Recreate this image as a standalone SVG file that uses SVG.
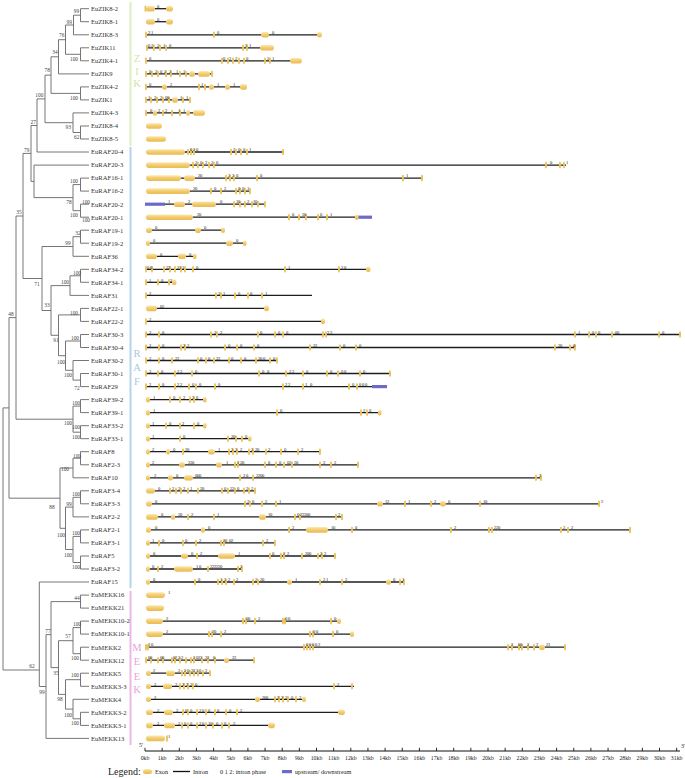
<svg xmlns="http://www.w3.org/2000/svg" width="685" height="778" viewBox="0 0 685 778">
<defs>
<linearGradient id="gx" x1="0" y1="0" x2="0" y2="1">
<stop offset="0" stop-color="#fbe8b0"/><stop offset="0.5" stop-color="#f2cb6c"/><stop offset="1" stop-color="#e8bb55"/>
</linearGradient>
</defs>
<style>
.t{font-family:'Liberation Serif',serif;font-size:6.6px;fill:#333}
.b{font-family:'Liberation Serif',serif;font-size:5.4px;fill:#444;text-anchor:middle}
.tr{stroke:#666;stroke-width:0.9;fill:none}
.in{stroke:#1e1e1e;stroke-width:1.3;fill:none}
.se{stroke:#ecc45e;stroke-width:1.9;stroke-linecap:round;fill:none}
.ex{fill:url(#gx)}
.bl{fill:#6c6cc8}
.ph{font-family:'Liberation Serif',serif;font-size:4.6px;fill:#222}
.ax{font-family:'Liberation Serif',serif;font-size:5.8px;fill:#222;text-anchor:middle}
.lg{font-family:'Liberation Serif',serif;font-size:6.2px;fill:#222}
.grp{font-family:'Liberation Serif',serif;font-size:10.5px;text-anchor:middle}
</style>
<rect width="685" height="778" fill="#fff"/>

<g id="connectors">
<path class="tr" d="M89 8.7H80.5V21.7H89M80.5 15.2H73.5V34.8H89M89 47.8H80.5V60.8H89M73.5 25H65.5V54.3H80.5M65.5 39.7H58.5V73.9H89M89 86.9H80.5V99.9H89M58.5 56.8H51V93.4H80.5M89 126H80.5V139H89M89 112.9H73V132.5H80.5M51 75.1H45V122.7H73M45 98.9H37V152H89"/>
<path class="tr" d="M89 178.1H80.5V191.1H89M89 204.2H80.5V217.2H89M80.5 184.6H73V210.7H80.5M89 165.1H34V197.6H73M37 125.5H31V181.4H34M89 230.2H80.5V243.2H89M80.5 236.7H73V256.3H89M89 269.3H80.5V282.3H89M80.5 275.8H70V295.4H89M89 308.4H80.5V321.4H89M89 334.5H80.5V347.5H89M89 373.5H80.5V386.6H89M89 360.5H73V380.1H80.5M80.5 341H65.5V370.3H73M80.5 314.9H58.5V355.7H65.5M70 285.6H51V335.3H58.5M73 246.5H42V310.5H51M31 153.4H23V278.5H42M89 399.6H80.5V412.6H89M89 425.7H80.5V438.7H89M80.5 406.1H73V432.2H80.5M23 216H16V419.2H73M89 451.7H80.5V464.8H89M80.5 458.2H73V477.8H89M89 490.8H80.5V503.8H89M80.5 497.3H73V516.9H89M89 529.9H80.5V542.9H89M89 556H80.5V569H89M80.5 536.4H73V562.5H80.5M73 507.1H65.5V549.5H73M73 468H60V528.3H65.5M16 317.6H9V498.2H60"/>
<path class="tr" d="M89 595.1H80.5V608.1H89M89 621.1H80.5V634.1H89M89 647.2H80.5V660.2H89M80.5 627.6H73V653.7H80.5M89 673.2H80.5V686.3H89M89 712.3H80.5V725.4H89M89 699.3H73V718.8H80.5M80.5 679.7H65.5V709.1H73M73 640.7H58.5V694.4H65.5M80.5 601.6H51V667.6H58.5M51 634.6H46V738.4H89M89 582H39.3V686.5H46M9 407.9H3V670H39.3"/>
</g>

<g id="bootstrap">
<text class="b" x="76.5" y="12.8">99</text><text class="b" x="69.3" y="23.8">99</text><text class="b" x="74" y="60.8">100</text><text class="b" x="61.7" y="36.8">76</text><text class="b" x="55" y="53.8">34</text><text class="b" x="74" y="99.8">100</text><text class="b" x="47.3" y="71.8">78</text><text class="b" x="76.7" y="138.8">62</text><text class="b" x="68.3" y="128.8">93</text><text class="b" x="39.3" y="96.8">100</text><text class="b" x="33.3" y="123.8">27</text><text class="b" x="26.7" y="151.8">79</text>
<text class="b" x="74" y="182.8">100</text><text class="b" x="69" y="203.8">78</text><text class="b" x="86" y="203.8">100</text><text class="b" x="74" y="216.8">100</text><text class="b" x="86" y="221.8">100</text><text class="b" x="78" y="234.8">32</text><text class="b" x="68" y="244.8">99</text><text class="b" x="19" y="213.8">35</text><text class="b" x="77" y="274.8">100</text><text class="b" x="65" y="283.8">100</text><text class="b" x="37" y="285.8">71</text><text class="b" x="11" y="315.8">48</text><text class="b" x="47" y="306.8">33</text><text class="b" x="74" y="314.8">100</text><text class="b" x="56" y="341.8">91</text><text class="b" x="75" y="339.8">100</text><text class="b" x="61" y="363.8">100</text><text class="b" x="68" y="376.8">100</text><text class="b" x="77" y="389.8">72</text>
<text class="b" x="76" y="404.8">100</text><text class="b" x="68" y="424.8">100</text><text class="b" x="76" y="428.8">100</text><text class="b" x="76" y="438.8">100</text><text class="b" x="77" y="457.8">100</text><text class="b" x="65" y="470.8">100</text><text class="b" x="52" y="508.8">88</text><text class="b" x="76" y="495.8">100</text><text class="b" x="69" y="505.8">99</text><text class="b" x="61" y="536.8">100</text><text class="b" x="76" y="534.8">100</text><text class="b" x="68" y="556.8">100</text><text class="b" x="76" y="568.8">100</text>
<text class="b" x="77" y="599.8">44</text><text class="b" x="77" y="625.8">100</text><text class="b" x="68" y="637.8">57</text><text class="b" x="75" y="659.8">100</text><text class="b" x="56" y="674.8">35</text><text class="b" x="75" y="676.8">100</text><text class="b" x="60" y="700.8">98</text><text class="b" x="68" y="716.8">100</text><text class="b" x="75" y="724.8">100</text><text class="b" x="48" y="632.8">77</text><text class="b" x="32" y="667.8">62</text><text class="b" x="42" y="693.8">99</text>
</g>

<g id="groups">
<rect x="129.5" y="2" width="2" height="144" fill="#dcefc2"/>
<rect x="129.5" y="147" width="2" height="441" fill="#b3d4ee"/>
<rect x="129.5" y="591" width="2" height="154" fill="#ebb8e7"/>
<g fill="#cfe5a7"><text class="grp" x="137" y="61.6">Z</text><text class="grp" x="137" y="75">I</text><text class="grp" x="137" y="86.6">K</text></g>
<g fill="#a6c8e6"><text class="grp" x="137" y="357.3">R</text><text class="grp" x="137" y="371.3">A</text><text class="grp" x="137" y="385.3">F</text></g>
<g fill="#e5a3dd"><text class="grp" x="137" y="651.3">M</text><text class="grp" x="137" y="665.3">E</text><text class="grp" x="137" y="680.3">E</text><text class="grp" x="137" y="693.3">K</text></g>
</g>

<g id="genes">
<g id="EuZIK8-2" transform="translate(0,8.7)"><text class="t" x="91" y="2.3">EuZIK8-2</text><path class="in" d="M146 0H173"/><path class="se" d="M145.5-2.3v4.6"/><rect class="ex" x="146" y="-2.8" width="9" height="5.6" rx="2.8"/><rect class="ex" x="166" y="-2.8" width="7" height="5.6" rx="2.8"/><text class="ph" x="157" y="-0.8">0</text></g>
<g id="EuZIK8-1" transform="translate(0,21.7)"><text class="t" x="91" y="2.3">EuZIK8-1</text><path class="in" d="M146 0H173"/><rect class="ex" x="146" y="-2.8" width="9" height="5.6" rx="2.8"/><rect class="ex" x="166" y="-2.8" width="7" height="5.6" rx="2.8"/><text class="ph" x="157" y="-0.8">0</text></g>
<g id="EuZIK8-3" transform="translate(0,34.8)"><text class="t" x="91" y="2.3">EuZIK8-3</text><path class="in" d="M146 0H320"/><path class="se" d="M146-2.3v4.6M214-2.3v4.6"/><rect class="ex" x="261" y="-2.8" width="8" height="5.6" rx="2.8"/><rect class="ex" x="317" y="-2.8" width="5" height="5.6" rx="2.5"/><text class="ph" x="148 151 217 272" y="-0.8">2100</text></g>
<g id="EuZIK11" transform="translate(0,47.8)"><text class="t" x="91" y="2.3">EuZIK11</text><path class="in" d="M146 0H270"/><path class="se" d="M147-2.3v4.6M154-2.3v4.6M160-2.3v4.6M166-2.3v4.6M243-2.3v4.6M247-2.3v4.6"/><rect class="ex" x="260" y="-2.8" width="14" height="5.6" rx="2.8"/><text class="ph" x="148 151 157 163 169 245 249" y="-0.8">0221021</text></g>
<g id="EuZIK4-1" transform="translate(0,60.8)"><text class="t" x="91" y="2.3">EuZIK4-1</text><path class="in" d="M146 0H298"/><path class="se" d="M146-2.3v4.6M222-2.3v4.6M228-2.3v4.6M233-2.3v4.6M239-2.3v4.6M244-2.3v4.6M265-2.3v4.6M270-2.3v4.6"/><rect class="ex" x="290" y="-2.8" width="12" height="5.6" rx="2.8"/><text class="ph" x="149 223 229 235 246 267 272" y="-0.8">0022021</text></g>
<g id="EuZIK9" transform="translate(0,73.9)"><text class="t" x="91" y="2.3">EuZIK9</text><path class="in" d="M146 0H212"/><path class="se" d="M146-2.3v4.6M152-2.3v4.6M158-2.3v4.6M166-2.3v4.6M171-2.3v4.6M180-2.3v4.6M186-2.3v4.6M212-2.3v4.6"/><rect class="ex" x="189" y="-2.8" width="6" height="5.6" rx="2.8"/><rect class="ex" x="198" y="-2.8" width="12" height="5.6" rx="2.8"/><text class="ph" x="149 155 160 164 169 176 183" y="-0.8">0202211</text></g>
<g id="EuZIK4-2" transform="translate(0,86.9)"><text class="t" x="91" y="2.3">EuZIK4-2</text><path class="in" d="M146 0H245"/><path class="se" d="M146-2.3v4.6M199-2.3v4.6M205-2.3v4.6"/><rect class="ex" x="162" y="-2.8" width="5" height="5.6" rx="2.5"/><rect class="ex" x="209" y="-2.8" width="5" height="5.6" rx="2.5"/><rect class="ex" x="225" y="-2.8" width="5" height="5.6" rx="2.5"/><rect class="ex" x="240" y="-2.8" width="7" height="5.6" rx="2.8"/><text class="ph" x="149 170 201 217 233" y="-0.8">02111</text></g>
<g id="EuZIK1" transform="translate(0,99.9)"><text class="t" x="91" y="2.3">EuZIK1</text><path class="in" d="M146 0H190"/><path class="se" d="M146-2.3v4.6M151-2.3v4.6M157-2.3v4.6M163-2.3v4.6M169-2.3v4.6M183-2.3v4.6M190-2.3v4.6"/><rect class="ex" x="172" y="-2.8" width="6" height="5.6" rx="2.8"/><text class="ph" x="148 154 160 165 167 180 186" y="-0.8">1220011</text></g>
<g id="EuZIK4-3" transform="translate(0,112.9)"><text class="t" x="91" y="2.3">EuZIK4-3</text><path class="in" d="M146 0H200"/><path class="se" d="M146-2.3v4.6M163-2.3v4.6M172-2.3v4.6M180-2.3v4.6"/><rect class="ex" x="153" y="-2.8" width="4" height="5.6" rx="2"/><rect class="ex" x="186" y="-2.8" width="4" height="5.6" rx="2"/><rect class="ex" x="193" y="-2.8" width="12" height="5.6" rx="2.8"/><text class="ph" x="150 158 165 178 183" y="-0.8">02211</text></g>
<g id="EuZIK8-4" transform="translate(0,126)"><text class="t" x="91" y="2.3">EuZIK8-4</text><rect class="ex" x="146" y="-2.8" width="16" height="5.6" rx="2.8"/></g>
<g id="EuZIK8-5" transform="translate(0,139)"><text class="t" x="91" y="2.3">EuZIK8-5</text><rect class="ex" x="146" y="-2.8" width="20" height="5.6" rx="2.8"/></g>

<g id="EuRAF20-4" transform="translate(0,152)"><text class="t" x="91" y="2.3">EuRAF20-4</text><path class="in" d="M180 0H284"/><path class="se" d="M188-2.3v4.6M191-2.3v4.6M194-2.3v4.6M231-2.3v4.6M236-2.3v4.6M241-2.3v4.6M247-2.3v4.6M283-2.3v4.6"/><rect class="ex" x="146" y="-2.8" width="39" height="5.6" rx="2.8"/><text class="ph" x="190 193 196 233 238 243 249" y="-0.8">0202001</text></g>
<g id="EuRAF20-3" transform="translate(0,165.1)"><text class="t" x="91" y="2.3">EuRAF20-3</text><path class="in" d="M185 0H566"/><path class="se" d="M193-2.3v4.6M198-2.3v4.6M203-2.3v4.6M209-2.3v4.6M214-2.3v4.6M546-2.3v4.6M560-2.3v4.6M564-2.3v4.6"/><rect class="ex" x="146" y="-2.8" width="44" height="5.6" rx="2.8"/><text class="ph" x="195 200 205 211 216 550 566" y="-0.8">2022001</text></g>
<g id="EuRAF16-1" transform="translate(0,178.1)"><text class="t" x="91" y="2.3">EuRAF16-1</text><path class="in" d="M180 0H422"/><path class="se" d="M226-2.3v4.6M230-2.3v4.6M234-2.3v4.6M257-2.3v4.6M403-2.3v4.6M422-2.3v4.6"/><rect class="ex" x="146" y="-2.8" width="35" height="5.6" rx="2.8"/><rect class="ex" x="184" y="-2.8" width="11" height="5.6" rx="2.8"/><text class="ph" x="198 200 228 232 236 260 406" y="-0.8">2022001</text></g>
<g id="EuRAF16-2" transform="translate(0,191.1)"><text class="t" x="91" y="2.3">EuRAF16-2</text><path class="in" d="M185 0H250"/><path class="se" d="M211-2.3v4.6M221-2.3v4.6M236-2.3v4.6M240-2.3v4.6M245-2.3v4.6M250-2.3v4.6"/><rect class="ex" x="146" y="-2.8" width="44" height="5.6" rx="2.8"/><text class="ph" x="193 195 214 224 238 242 247" y="-0.8">2002001</text></g>
<g id="EuRAF20-2" transform="translate(0,204.2)"><text class="t" x="91" y="2.3">EuRAF20-2</text><path class="in" d="M165 0H265"/><rect class="bl" x="145" y="-1.6" width="20" height="3.2"/><path class="se" d="M234-2.3v4.6M240-2.3v4.6M245-2.3v4.6M252-2.3v4.6M258-2.3v4.6M265-2.3v4.6"/><rect class="ex" x="174" y="-2.8" width="11" height="5.6" rx="2.8"/><rect class="ex" x="192" y="-2.8" width="24" height="5.6" rx="2.8"/><text class="ph" x="168 188 220 236 238 247 253 255" y="-0.8">12010210</text></g>
<g id="EuRAF20-1" transform="translate(0,217.2)"><text class="t" x="91" y="2.3">EuRAF20-1</text><path class="in" d="M185 0H358"/><rect class="bl" x="358" y="-1.6" width="14" height="3.2"/><path class="se" d="M289-2.3v4.6M299-2.3v4.6M306-2.3v4.6M318-2.3v4.6M327-2.3v4.6"/><rect class="ex" x="146" y="-2.8" width="47" height="5.6" rx="2.8"/><rect class="ex" x="355" y="-2.8" width="3.5" height="5.6" rx="1.7"/><text class="ph" x="197 199 292 302 304 320 330" y="-0.8">2002001</text></g>
<g id="EuRAF19-1" transform="translate(0,230.2)"><text class="t" x="91" y="2.3">EuRAF19-1</text><path class="in" d="M150 0H223"/><rect class="ex" x="146" y="-2.8" width="6" height="5.6" rx="2.8"/><rect class="ex" x="195" y="-2.8" width="6" height="5.6" rx="2.8"/><rect class="ex" x="221" y="-2.8" width="4" height="5.6" rx="2"/><text class="ph" x="155 204" y="-0.8">00</text></g>
<g id="EuRAF19-2" transform="translate(0,243.2)"><text class="t" x="91" y="2.3">EuRAF19-2</text><path class="in" d="M148 0H245"/><rect class="ex" x="146" y="-2.8" width="4" height="5.6" rx="2"/><rect class="ex" x="226" y="-2.8" width="7" height="5.6" rx="2.8"/><rect class="ex" x="243" y="-2.8" width="3.5" height="5.6" rx="1.7"/><text class="ph" x="153 236" y="-0.8">00</text></g>
<g id="EuRAF36" transform="translate(0,256.3)"><text class="t" x="91" y="2.3">EuRAF36</text><path class="in" d="M150 0H195"/><rect class="ex" x="146" y="-2.8" width="11" height="5.6" rx="2.8"/><rect class="ex" x="178" y="-2.8" width="8" height="5.6" rx="2.8"/><rect class="ex" x="193" y="-2.8" width="3.5" height="5.6" rx="1.7"/><text class="ph" x="160 189" y="-0.8">00</text></g>
<g id="EuRAF34-2" transform="translate(0,269.3)"><text class="t" x="91" y="2.3">EuRAF34-2</text><path class="in" d="M146 0H368"/><path class="se" d="M146-2.3v4.6M152-2.3v4.6M164-2.3v4.6M170-2.3v4.6M175-2.3v4.6M181-2.3v4.6M185-2.3v4.6M193-2.3v4.6M285-2.3v4.6M339-2.3v4.6"/><rect class="ex" x="366" y="-2.8" width="4.5" height="5.6" rx="2.2"/><text class="ph" x="147 150 166 168 177 179 182 196 288 341 344" y="-0.8">00222110120</text></g>
<g id="EuRAF34-1" transform="translate(0,282.3)"><text class="t" x="91" y="2.3">EuRAF34-1</text><path class="in" d="M146 0H174"/><path class="se" d="M146-2.3v4.6M158-2.3v4.6M169-2.3v4.6"/><rect class="ex" x="172" y="-2.8" width="4.5" height="5.6" rx="2.2"/><text class="ph" x="149 161 170" y="-0.8">102</text></g>
<g id="EuRAF31" transform="translate(0,295.4)"><text class="t" x="91" y="2.3">EuRAF31</text><path class="in" d="M146 0H312"/><path class="se" d="M146-2.3v4.6M216-2.3v4.6M221-2.3v4.6M235-2.3v4.6M248-2.3v4.6M262-2.3v4.6"/><text class="ph" x="149 218 223 238 250 265" y="-0.8">221001</text></g>
<g id="EuRAF22-1" transform="translate(0,308.4)"><text class="t" x="91" y="2.3">EuRAF22-1</text><path class="in" d="M150 0H267"/><rect class="ex" x="146" y="-2.8" width="11" height="5.6" rx="2.8"/><rect class="ex" x="264" y="-2.8" width="5" height="5.6" rx="2.5"/><text class="ph" x="160 162" y="-0.8">02</text></g>
<g id="EuRAF22-2" transform="translate(0,321.4)"><text class="t" x="91" y="2.3">EuRAF22-2</text><path class="in" d="M146 0H323"/><path class="se" d="M146-2.3v4.6"/><rect class="ex" x="321" y="-2.8" width="4" height="5.6" rx="2"/><text class="ph" x="149" y="-0.8">2</text></g>
<g id="EuRAF30-3" transform="translate(0,334.5)"><text class="t" x="91" y="2.3">EuRAF30-3</text><path class="in" d="M146 0H681"/><path class="se" d="M146-2.3v4.6M159-2.3v4.6M211-2.3v4.6M217-2.3v4.6M258-2.3v4.6M275-2.3v4.6M283-2.3v4.6M323-2.3v4.6M326-2.3v4.6M575-2.3v4.6M589-2.3v4.6M596-2.3v4.6M612-2.3v4.6M659-2.3v4.6M680-2.3v4.6"/><text class="ph" x="149 162 214 220 260 278 286 327 330 578 592 598 615 617 662" y="-0.8">202200022100000</text></g>
<g id="EuRAF30-4" transform="translate(0,347.5)"><text class="t" x="91" y="2.3">EuRAF30-4</text><path class="in" d="M146 0H575"/><path class="se" d="M146-2.3v4.6M159-2.3v4.6M181-2.3v4.6M185-2.3v4.6M225-2.3v4.6M237-2.3v4.6M254-2.3v4.6M310-2.3v4.6M340-2.3v4.6M356-2.3v4.6M555-2.3v4.6M570-2.3v4.6M575-2.3v4.6"/><text class="ph" x="149 162 183 187 228 240 257 313 315 343 359 558 560 573" y="-0.8">20220002200200</text></g>
<g id="EuRAF30-2" transform="translate(0,360.5)"><text class="t" x="91" y="2.3">EuRAF30-2</text><path class="in" d="M146 0H277"/><path class="se" d="M146-2.3v4.6M159-2.3v4.6M172-2.3v4.6M198-2.3v4.6M206-2.3v4.6M214-2.3v4.6M229-2.3v4.6M241-2.3v4.6M256-2.3v4.6M270-2.3v4.6M277-2.3v4.6"/><text class="ph" x="149 162 175 177 200 208 216 218 231 244 258 260 263 273" y="-0.8">20220022002000</text></g>
<g id="EuRAF30-1" transform="translate(0,373.5)"><text class="t" x="91" y="2.3">EuRAF30-1</text><path class="in" d="M146 0H390"/><path class="se" d="M146-2.3v4.6M158-2.3v4.6M175-2.3v4.6M192-2.3v4.6M259-2.3v4.6M286-2.3v4.6M303-2.3v4.6M327-2.3v4.6M338-2.3v4.6M360-2.3v4.6M390-2.3v4.6"/><text class="ph" x="149 161 177 180 195 262 267 289 292 306 330 341 344 363" y="-0.8">20220002200000</text></g>
<g id="EuRAF29" transform="translate(0,386.6)"><text class="t" x="91" y="2.3">EuRAF29</text><path class="in" d="M146 0H372"/><rect class="bl" x="372" y="-1.6" width="15" height="3.2"/><path class="se" d="M146-2.3v4.6M159-2.3v4.6M175-2.3v4.6M189-2.3v4.6M196-2.3v4.6M215-2.3v4.6M283-2.3v4.6M303-2.3v4.6M349-2.3v4.6M357-2.3v4.6"/><text class="ph" x="149 162 177 180 192 199 218 285 288 305 310 352 359 362 365" y="-0.8">202200022100000</text></g>
<g id="EuRAF39-2" transform="translate(0,399.6)"><text class="t" x="91" y="2.3">EuRAF39-2</text><path class="in" d="M148 0H205"/><path class="se" d="M170-2.3v4.6M180-2.3v4.6M190-2.3v4.6M194-2.3v4.6"/><rect class="ex" x="146" y="-2.8" width="4" height="5.6" rx="2"/><rect class="ex" x="203" y="-2.8" width="3.5" height="5.6" rx="1.7"/><text class="ph" x="153 173 183 192 196" y="-0.8">10220</text></g>
<g id="EuRAF39-1" transform="translate(0,412.6)"><text class="t" x="91" y="2.3">EuRAF39-1</text><path class="in" d="M148 0H380"/><path class="se" d="M277-2.3v4.6M361-2.3v4.6M367-2.3v4.6"/><rect class="ex" x="146" y="-2.8" width="4" height="5.6" rx="2"/><rect class="ex" x="378" y="-2.8" width="3.5" height="5.6" rx="1.7"/><text class="ph" x="153 280 363 369" y="-0.8">1020</text></g>
<g id="EuRAF33-2" transform="translate(0,425.7)"><text class="t" x="91" y="2.3">EuRAF33-2</text><path class="in" d="M148 0H205"/><path class="se" d="M166-2.3v4.6M180-2.3v4.6M194-2.3v4.6"/><rect class="ex" x="146" y="-2.8" width="4" height="5.6" rx="2"/><rect class="ex" x="203" y="-2.8" width="3.5" height="5.6" rx="1.7"/><text class="ph" x="152 169 182 197" y="-0.8">1020</text></g>
<g id="EuRAF33-1" transform="translate(0,438.7)"><text class="t" x="91" y="2.3">EuRAF33-1</text><path class="in" d="M148 0H250"/><path class="se" d="M180-2.3v4.6M228-2.3v4.6M236-2.3v4.6M242-2.3v4.6"/><rect class="ex" x="146" y="-2.8" width="4" height="5.6" rx="2"/><rect class="ex" x="248" y="-2.8" width="3.5" height="5.6" rx="1.7"/><text class="ph" x="152 183 231 233 245" y="-0.8">10200</text></g>
<g id="EuRAF8" transform="translate(0,451.7)"><text class="t" x="91" y="2.3">EuRAF8</text><path class="in" d="M148 0H320"/><path class="se" d="M183-2.3v4.6M229-2.3v4.6M233-2.3v4.6M237-2.3v4.6M249-2.3v4.6M253-2.3v4.6M266-2.3v4.6M281-2.3v4.6M298-2.3v4.6M320-2.3v4.6"/><rect class="ex" x="146" y="-2.8" width="4" height="5.6" rx="2"/><rect class="ex" x="166" y="-2.8" width="4" height="5.6" rx="2"/><rect class="ex" x="208" y="-2.8" width="7" height="5.6" rx="2.8"/><text class="ph" x="152 173 185 187 218 231 235 240 251 255 257 268 284 301" y="-0.8">20201222220202</text></g>
<g id="EuRAF2-3" transform="translate(0,464.8)"><text class="t" x="91" y="2.3">EuRAF2-3</text><path class="in" d="M148 0H358"/><path class="se" d="M235-2.3v4.6M238-2.3v4.6M265-2.3v4.6M276-2.3v4.6M284-2.3v4.6M292-2.3v4.6M320-2.3v4.6M331-2.3v4.6M358-2.3v4.6"/><rect class="ex" x="146" y="-2.8" width="4" height="5.6" rx="2"/><rect class="ex" x="179" y="-2.8" width="6" height="5.6" rx="2.8"/><rect class="ex" x="216" y="-2.8" width="6" height="5.6" rx="2.8"/><text class="ph" x="152 188 190 192 226 237 240 242 268 279 287 289 294 296 323 334" y="-0.8">2220122000022022</text></g>
<g id="EuRAF10" transform="translate(0,477.8)"><text class="t" x="91" y="2.3">EuRAF10</text><path class="in" d="M148 0H541"/><path class="se" d="M240-2.3v4.6M253-2.3v4.6M536-2.3v4.6M541-2.3v4.6"/><rect class="ex" x="146" y="-2.8" width="4" height="5.6" rx="2"/><rect class="ex" x="168" y="-2.8" width="5" height="5.6" rx="2.5"/><rect class="ex" x="184" y="-2.8" width="9" height="5.6" rx="2.8"/><text class="ph" x="154 176 195 197 199 243 246 256 258 260 262 539" y="-0.8">200002022002</text></g>
<g id="EuRAF3-4" transform="translate(0,490.8)"><text class="t" x="91" y="2.3">EuRAF3-4</text><path class="in" d="M150 0H255"/><path class="se" d="M170-2.3v4.6M176-2.3v4.6M181-2.3v4.6M188-2.3v4.6M198-2.3v4.6M222-2.3v4.6M228-2.3v4.6M235-2.3v4.6M244-2.3v4.6M249-2.3v4.6M255-2.3v4.6"/><rect class="ex" x="146" y="-2.8" width="9" height="5.6" rx="2.8"/><text class="ph" x="158 172 178 183 190 200 202 224 230 232 237 246 251" y="-0.8">0222120022022</text></g>
<g id="EuRAF3-3" transform="translate(0,503.8)"><text class="t" x="91" y="2.3">EuRAF3-3</text><path class="in" d="M150 0H600"/><path class="se" d="M245-2.3v4.6M250-2.3v4.6M262-2.3v4.6M276-2.3v4.6M405-2.3v4.6M431-2.3v4.6M480-2.3v4.6M599-2.3v4.6"/><rect class="ex" x="146" y="-2.8" width="6" height="5.6" rx="2.8"/><rect class="ex" x="377" y="-2.8" width="6" height="5.6" rx="2.8"/><rect class="ex" x="440" y="-2.8" width="6" height="5.6" rx="2.8"/><text class="ph" x="155 247 252 265 279 385 387 408 434 448 483 485 601" y="-0.8">0202112120102</text></g>
<g id="EuRAF2-2" transform="translate(0,516.9)"><text class="t" x="91" y="2.3">EuRAF2-2</text><path class="in" d="M150 0H342"/><path class="se" d="M188-2.3v4.6M214-2.3v4.6M295-2.3v4.6M300-2.3v4.6M336-2.3v4.6M342-2.3v4.6"/><rect class="ex" x="146" y="-2.8" width="12" height="5.6" rx="2.8"/><rect class="ex" x="171" y="-2.8" width="4" height="5.6" rx="2"/><rect class="ex" x="259" y="-2.8" width="7" height="5.6" rx="2.8"/><text class="ph" x="161 178 180 191 217 268 270 297 300 302 304 306 308 338" y="-0.8">02021100222002</text></g>
<g id="EuRAF2-1" transform="translate(0,529.9)"><text class="t" x="91" y="2.3">EuRAF2-1</text><path class="in" d="M150 0H630"/><path class="se" d="M289-2.3v4.6M352-2.3v4.6M451-2.3v4.6M489-2.3v4.6M492-2.3v4.6M561-2.3v4.6M568-2.3v4.6M630-2.3v4.6"/><rect class="ex" x="146" y="-2.8" width="5" height="5.6" rx="2.5"/><rect class="ex" x="201" y="-2.8" width="4" height="5.6" rx="2"/><rect class="ex" x="306" y="-2.8" width="22" height="5.6" rx="2.8"/><text class="ph" x="155 208 292 331 333 355 454 494 496 498 563 571" y="-0.8">002100222022</text></g>
<g id="EuRAF3-1" transform="translate(0,542.9)"><text class="t" x="91" y="2.3">EuRAF3-1</text><path class="in" d="M148 0H275"/><path class="se" d="M159-2.3v4.6M183-2.3v4.6M196-2.3v4.6M221-2.3v4.6M224-2.3v4.6M263-2.3v4.6M275-2.3v4.6"/><rect class="ex" x="146" y="-2.8" width="4" height="5.6" rx="2"/><text class="ph" x="152 162 185 199 223 225 229 231 266" y="-0.8">100220022</text></g>
<g id="EuRAF5" transform="translate(0,556)"><text class="t" x="91" y="2.3">EuRAF5</text><path class="in" d="M148 0H335"/><path class="se" d="M197-2.3v4.6M270-2.3v4.6M281-2.3v4.6M284-2.3v4.6M302-2.3v4.6M318-2.3v4.6M322-2.3v4.6M335-2.3v4.6"/><rect class="ex" x="146" y="-2.8" width="4" height="5.6" rx="2"/><rect class="ex" x="181" y="-2.8" width="7" height="5.6" rx="2.8"/><rect class="ex" x="218" y="-2.8" width="17" height="5.6" rx="2.8"/><text class="ph" x="153 191 200 238 272 283 287 305 307 309 320 324" y="-0.8">002102220022</text></g>
<g id="EuRAF3-2" transform="translate(0,569)"><text class="t" x="91" y="2.3">EuRAF3-2</text><path class="in" d="M148 0H242"/><path class="se" d="M158-2.3v4.6M208-2.3v4.6M238-2.3v4.6M242-2.3v4.6"/><rect class="ex" x="146" y="-2.8" width="4" height="5.6" rx="2"/><rect class="ex" x="174" y="-2.8" width="19" height="5.6" rx="2.8"/><text class="ph" x="152 161 196 199 210 212 214 216 218 220 240" y="-0.8">02102222202</text></g>
<g id="EuRAF15" transform="translate(0,582)"><text class="t" x="91" y="2.3">EuRAF15</text><path class="in" d="M148 0H404"/><path class="se" d="M195-2.3v4.6M218-2.3v4.6M222-2.3v4.6M226-2.3v4.6M234-2.3v4.6M253-2.3v4.6M258-2.3v4.6M320-2.3v4.6M342-2.3v4.6M400-2.3v4.6M404-2.3v4.6"/><rect class="ex" x="146" y="-2.8" width="4" height="5.6" rx="2"/><rect class="ex" x="287" y="-2.8" width="5" height="5.6" rx="2.5"/><rect class="ex" x="386" y="-2.8" width="5" height="5.6" rx="2.5"/><text class="ph" x="153 198 220 224 228 236 255 260 262 295 323 326 345 393 402" y="-0.8">001222220121201</text></g>

<g id="EuMEKK16" transform="translate(0,595.1)"><text class="t" x="91" y="2.3">EuMEKK16</text><rect class="ex" x="146" y="-2.8" width="19" height="5.6" rx="2.8"/><text class="ph" x="168" y="-0.8">1</text></g>
<g id="EuMEKK21" transform="translate(0,608.1)"><text class="t" x="91" y="2.3">EuMEKK21</text><rect class="ex" x="146" y="-2.8" width="18" height="5.6" rx="2.8"/></g>
<g id="EuMEKK10-2" transform="translate(0,621.1)"><text class="t" x="91" y="2.3">EuMEKK10-2</text><path class="in" d="M155 0H339"/><path class="se" d="M243-2.3v4.6M246-2.3v4.6M255-2.3v4.6M283-2.3v4.6M285-2.3v4.6M331-2.3v4.6"/><rect class="ex" x="146" y="-2.8" width="17" height="5.6" rx="2.8"/><rect class="ex" x="337" y="-2.8" width="4" height="5.6" rx="2"/><text class="ph" x="166 246 248 258 285 288 334" y="-0.8">2002000</text></g>
<g id="EuMEKK10-1" transform="translate(0,634.1)"><text class="t" x="91" y="2.3">EuMEKK10-1</text><path class="in" d="M155 0H352"/><path class="se" d="M209-2.3v4.6M212-2.3v4.6M221-2.3v4.6M310-2.3v4.6M313-2.3v4.6M333-2.3v4.6"/><rect class="ex" x="146" y="-2.8" width="17" height="5.6" rx="2.8"/><rect class="ex" x="350" y="-2.8" width="4" height="5.6" rx="2"/><text class="ph" x="166 212 214 224 313 316 336" y="-0.8">2202000</text></g>
<g id="EuMEKK2" transform="translate(0,647.2)"><text class="t" x="91" y="2.3">EuMEKK2</text><path class="in" d="M146 0H566"/><path class="se" d="M146-2.3v4.6M148-2.3v4.6M304-2.3v4.6M307-2.3v4.6M310-2.3v4.6M313-2.3v4.6M508-2.3v4.6M512-2.3v4.6M519-2.3v4.6M522-2.3v4.6M528-2.3v4.6M534-2.3v4.6M565-2.3v4.6"/><rect class="ex" x="539" y="-2.8" width="6" height="5.6" rx="2.8"/><text class="ph" x="148 151 306 309 312 315 318 511 518 520 527 536 546 548" y="-0.8">20000022002221</text></g>
<g id="EuMEKK12" transform="translate(0,660.2)"><text class="t" x="91" y="2.3">EuMEKK12</text><path class="in" d="M146 0H254"/><path class="se" d="M146-2.3v4.6M151-2.3v4.6M158-2.3v4.6M163-2.3v4.6M172-2.3v4.6M175-2.3v4.6M180-2.3v4.6M186-2.3v4.6M191-2.3v4.6M194-2.3v4.6M202-2.3v4.6M208-2.3v4.6M215-2.3v4.6M254-2.3v4.6"/><rect class="ex" x="224" y="-2.8" width="5" height="5.6" rx="2.5"/><text class="ph" x="148 150 160 162 173 175 178 181 193 196 198 200 205 207 213 232 234" y="-0.8">00000222202222022</text></g>
<g id="EuMEKK5" transform="translate(0,673.2)"><text class="t" x="91" y="2.3">EuMEKK5</text><path class="in" d="M150 0H210"/><path class="se" d="M182-2.3v4.6M185-2.3v4.6M190-2.3v4.6M194-2.3v4.6M198-2.3v4.6M203-2.3v4.6M210-2.3v4.6"/><rect class="ex" x="146" y="-2.8" width="5" height="5.6" rx="2.5"/><rect class="ex" x="166" y="-2.8" width="9" height="5.6" rx="2.8"/><text class="ph" x="153 178 184 187 191 193 196 199 205" y="-0.8">222022202</text></g>
<g id="EuMEKK3-3" transform="translate(0,686.3)"><text class="t" x="91" y="2.3">EuMEKK3-3</text><path class="in" d="M150 0H354"/><path class="se" d="M180-2.3v4.6M184-2.3v4.6M188-2.3v4.6M193-2.3v4.6M334-2.3v4.6M352-2.3v4.6"/><rect class="ex" x="146" y="-2.8" width="5" height="5.6" rx="2.5"/><rect class="ex" x="163" y="-2.8" width="9" height="5.6" rx="2.8"/><text class="ph" x="154 175 182 186 190 195 337" y="-0.8">2222202</text></g>
<g id="EuMEKK4" transform="translate(0,699.3)"><text class="t" x="91" y="2.3">EuMEKK4</text><path class="in" d="M150 0H304"/><path class="se" d="M275-2.3v4.6M279-2.3v4.6M283-2.3v4.6M288-2.3v4.6M296-2.3v4.6"/><rect class="ex" x="146" y="-2.8" width="5" height="5.6" rx="2.5"/><rect class="ex" x="255" y="-2.8" width="5" height="5.6" rx="2.5"/><rect class="ex" x="302" y="-2.8" width="4" height="5.6" rx="2"/><text class="ph" x="154 262 264 266 277 281 285 291 299" y="-0.8">220022202</text></g>
<g id="EuMEKK3-2" transform="translate(0,712.3)"><text class="t" x="91" y="2.3">EuMEKK3-2</text><path class="in" d="M150 0H340"/><path class="se" d="M183-2.3v4.6M188-2.3v4.6M197-2.3v4.6M206-2.3v4.6M215-2.3v4.6M226-2.3v4.6M237-2.3v4.6"/><rect class="ex" x="146" y="-2.8" width="7" height="5.6" rx="2.8"/><rect class="ex" x="164" y="-2.8" width="9" height="5.6" rx="2.8"/><rect class="ex" x="338" y="-2.8" width="7" height="5.6" rx="2.8"/><text class="ph" x="157 176 185 190 199 202 208 217 229 240" y="-0.8">2200200002</text></g>
<g id="EuMEKK3-1" transform="translate(0,725.4)"><text class="t" x="91" y="2.3">EuMEKK3-1</text><path class="in" d="M150 0H270"/><path class="se" d="M182-2.3v4.6M188-2.3v4.6M197-2.3v4.6M206-2.3v4.6M213-2.3v4.6M222-2.3v4.6M229-2.3v4.6"/><rect class="ex" x="146" y="-2.8" width="7" height="5.6" rx="2.8"/><rect class="ex" x="164" y="-2.8" width="11" height="5.6" rx="2.8"/><rect class="ex" x="268" y="-2.8" width="7" height="5.6" rx="2.8"/><text class="ph" x="157 178 184 190 199 202 208 210 216 224 233" y="-0.8">22002010002</text></g>
<g id="EuMEKK13" transform="translate(0,738.4)"><text class="t" x="91" y="2.3">EuMEKK13</text><path class="se" d="M167-2.3v4.6"/><rect class="ex" x="146" y="-2.8" width="19" height="5.6" rx="2.8"/><text class="ph" x="168" y="-0.8">1</text></g>
</g>

<g id="axis">
<path stroke="#111" stroke-width="1.2" fill="none" d="M145 751H680"/>
<path stroke="#111" stroke-width="0.9" fill="none" d="M145 751v-3.2M162.15 751v-3.2M179.3 751v-3.2M196.45 751v-3.2M213.6 751v-3.2M230.75 751v-3.2M247.9 751v-3.2M265.05 751v-3.2M282.2 751v-3.2M299.35 751v-3.2M316.5 751v-3.2M333.65 751v-3.2M350.8 751v-3.2M367.95 751v-3.2M385.1 751v-3.2M402.25 751v-3.2M419.4 751v-3.2M436.55 751v-3.2M453.7 751v-3.2M470.85 751v-3.2M488 751v-3.2M505.15 751v-3.2M522.3 751v-3.2M539.45 751v-3.2M556.6 751v-3.2M573.75 751v-3.2M590.9 751v-3.2M608.05 751v-3.2M625.2 751v-3.2M642.35 751v-3.2M659.5 751v-3.2M676.65 751v-3.2"/>
<text class="ax" x="143" y="747" style="text-anchor:end">5'</text>
<text class="ax" x="683" y="747.5">3'</text>
<text class="ax" x="145" y="760">0kb</text><text class="ax" x="162.15" y="760">1kb</text><text class="ax" x="179.3" y="760">2kb</text><text class="ax" x="196.45" y="760">3kb</text><text class="ax" x="213.6" y="760">4kb</text><text class="ax" x="230.75" y="760">5kb</text><text class="ax" x="247.9" y="760">6kb</text><text class="ax" x="265.05" y="760">7kb</text><text class="ax" x="282.2" y="760">8kb</text><text class="ax" x="299.35" y="760">9kb</text><text class="ax" x="316.5" y="760">10kb</text><text class="ax" x="333.65" y="760">11kb</text><text class="ax" x="350.8" y="760">12kb</text><text class="ax" x="367.95" y="760">13kb</text><text class="ax" x="385.1" y="760">14kb</text><text class="ax" x="402.25" y="760">15kb</text><text class="ax" x="419.4" y="760">16kb</text><text class="ax" x="436.55" y="760">17kb</text><text class="ax" x="453.7" y="760">18kb</text><text class="ax" x="470.85" y="760">19kb</text><text class="ax" x="488" y="760">20kb</text><text class="ax" x="505.15" y="760">21kb</text><text class="ax" x="522.3" y="760">22kb</text><text class="ax" x="539.45" y="760">23kb</text><text class="ax" x="556.6" y="760">24kb</text><text class="ax" x="573.75" y="760">25kb</text><text class="ax" x="590.9" y="760">26kb</text><text class="ax" x="608.05" y="760">27kb</text><text class="ax" x="625.2" y="760">28kb</text><text class="ax" x="642.35" y="760">29kb</text><text class="ax" x="659.5" y="760">30kb</text><text class="ax" x="676.65" y="760">31kb</text>
</g>

<g id="legend">
<text x="108" y="775" font-family="'Liberation Serif',serif" font-size="10px" fill="#222">Legend:</text>
<rect class="ex" x="143" y="769" width="9" height="5" rx="2.5"/>
<text class="lg" x="155" y="774">Exon</text>
<path stroke="#111" stroke-width="1.3" d="M173 771.5H190"/>
<text class="lg" x="193" y="774">Intron</text>
<text class="lg" x="220" y="774">0 1 2: intron phase</text>
<rect class="bl" x="282" y="770" width="10" height="3.2"/>
<text class="lg" x="295" y="774">upstream/ downstream</text>
</g>
</svg>
